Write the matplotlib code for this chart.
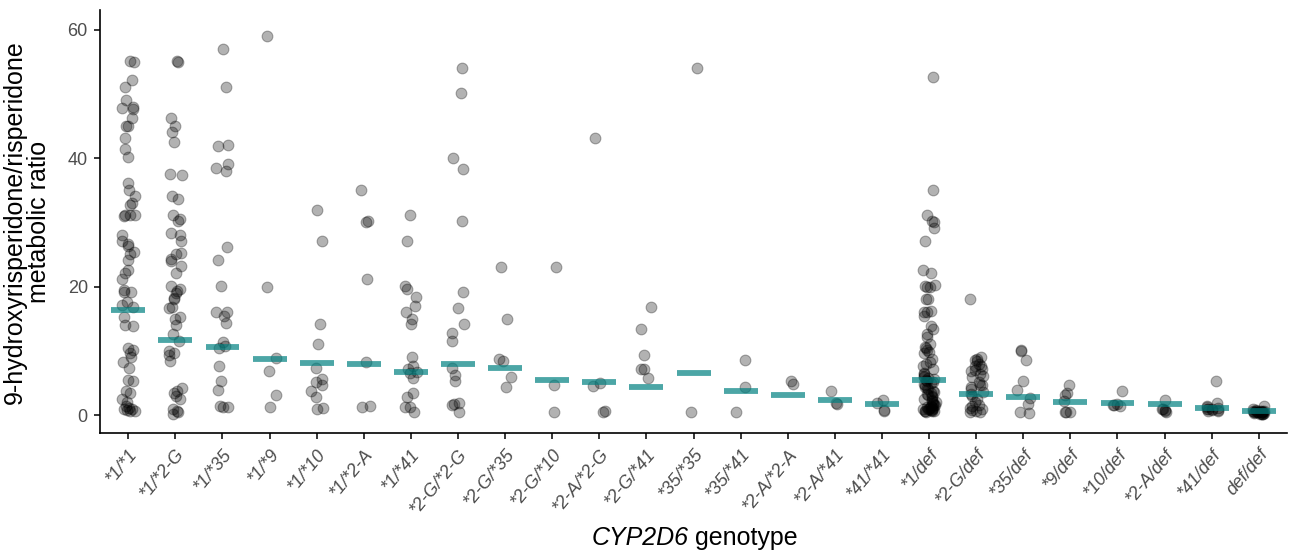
import numpy as np
import matplotlib.pyplot as plt

plt.rcParams['font.family'] = ['Liberation Sans', 'DejaVu Sans']

genotypes = ["*1/*1", "*1/*2-G", "*1/*35", "*1/*9", "*1/*10", "*1/*2-A", "*1/*41",
             "*2-G/*2-G", "*2-G/*35", "*2-G/*10", "*2-A/*2-G", "*2-G/*41", "*35/*35",
             "*35/*41", "*2-A/*2-A", "*2-A/*41", "*41/*41", "*1/def", "*2-G/def",
             "*35/def", "*9/def", "*10/def", "*2-A/def", "*41/def", "def/def"]

# metabolic ratio per patient
r_1_1 = [55.1, 55.0, 52.2, 51.1, 49.1, 48.0, 47.8, 47.6, 46.2, 45.1, 45.0, 43.1, 41.5, 40.2,
         36.2, 35.1, 34.1, 33.1, 32.7, 31.1, 31.1, 31.0, 31.2, 28.1, 27.1, 26.7, 26.3, 25.4,
         25.1, 24.1, 22.6, 22.2, 21.2, 19.4, 19.2, 19.1, 17.6, 17.1, 16.8, 15.2, 14.0, 13.8,
         10.5, 10.2, 9.7, 9.1, 8.2, 7.3, 5.4, 5.3, 3.8, 3.5, 2.5, 2.1, 1.4, 1.0, 0.9, 0.8,
         0.7, 1.1, 0.6]
r_1_2G = [55.1, 55.0, 46.2, 45.1, 44.1, 42.6, 37.6, 37.4, 34.1, 33.6, 31.1, 30.6, 30.2, 28.4,
          28.1, 27.1, 25.3, 25.1, 24.3, 24.0, 23.2, 22.2, 20.1, 19.6, 19.3, 19.0, 18.3, 18.0,
          16.9, 16.6, 15.2, 14.9, 14.0, 12.6, 11.6, 10.0, 9.6, 9.3, 8.4, 4.2, 3.8, 3.4, 3.0,
          2.5, 0.9, 0.7, 0.5, 0.2]
r_1_35 = [57.1, 51.1, 42.0, 41.9, 39.1, 38.5, 38.0, 26.1, 24.2, 20.1, 16.1, 16.0, 15.4, 14.4,
          11.3, 10.8, 10.4, 7.7, 5.3, 3.9, 1.4, 1.3, 1.2]
r_1_9 = [59.1, 19.9, 8.9, 6.9, 3.1, 1.2]
r_1_10 = [32.0, 27.1, 14.2, 11.0, 7.4, 5.6, 5.2, 4.7, 3.8, 2.8, 1.0, 1.1]
r_1_2A = [35.1, 30.2, 30.1, 21.2, 8.3, 1.35, 1.2]
r_1_41 = [31.1, 27.1, 20.1, 19.7, 18.4, 17.0, 16.1, 15.0, 14.2, 9.1, 7.7, 7.2, 6.7, 6.6,
          5.7, 3.5, 2.8, 1.2, 1.3, 0.5]
r_2G_2G = [54.1, 50.1, 40.1, 38.4, 30.2, 19.1, 16.7, 14.2, 12.7, 11.6, 7.4, 6.2, 5.3, 1.7,
           1.8, 1.6, 0.4]
r_2G_35 = [23.1, 15.0, 8.7, 8.4, 5.9, 4.3]
r_2G_10 = [23.1, 4.6, 0.4]
r_2A_2G = [43.1, 5.0, 4.5, 0.5, 0.6]
r_2G_41 = [16.9, 13.4, 9.3, 7.2, 7.1, 5.7]
r_35_35 = [54.1, 0.4]
r_35_41 = [8.6, 4.3, 0.4]
r_2A_2A = [5.3, 4.8]
r_2A_41 = [3.8, 1.9, 1.7]
r_41_41 = [2.4, 1.9, 0.8, 0.7]
r_1_def = [52.6, 35.1, 31.1, 30.2, 30.1, 29.1, 27.1, 22.6, 22.2, 20.1, 20.0, 20.2, 19.9, 18.1,
           18.0, 16.2, 16.1, 16.0, 15.4, 13.9, 13.4, 12.6, 12.1, 11.0, 10.6, 10.4, 10.1, 9.8,
           9.6, 8.7, 8.2, 7.9, 7.7, 7.2, 6.6, 6.4, 6.1, 5.9, 5.6, 5.5, 5.3, 5.1, 5.0, 4.6, 4.0,
           3.6, 3.3, 3.0, 2.5, 2.2, 1.9, 1.7, 1.4, 1.2, 1.0, 0.9, 0.8, 0.6, 0.5, 1.1, 1.3, 0.7,
           4.8, 4.4, 3.8, 3.4, 2.8, 2.0, 1.6, 1.5, 1.1, 0.9, 0.8, 0.7, 0.6, 1.0, 2.4, 3.1, 4.2,
           5.8]
r_2G_def = [18.1, 9.0, 8.8, 8.6, 8.4, 7.9, 7.7, 7.6, 7.2, 7.0, 6.9, 6.4, 6.1, 5.9, 5.1, 4.7,
            4.6, 4.3, 4.0, 3.6, 3.3, 3.0, 2.5, 2.0, 1.5, 1.4, 0.9, 0.8, 0.5, 0.4, 0.6, 1.1]
r_35_def = [10.2, 9.9, 8.5, 5.3, 3.9, 2.6, 1.7, 0.3, 0.4]
r_9_def = [4.6, 3.4, 3.1, 2.2, 0.4, 0.5, 0.4]
r_10_def = [3.8, 1.7, 1.5, 1.4, 1.6]
r_2A_def = [2.4, 0.9, 0.6, 0.4, 0.8, 1.0]
r_41_def = [5.3, 1.9, 1.4, 1.2, 1.0, 0.8, 0.7, 0.9, 1.1, 0.6, 1.0, 0.8]
r_def_def = [1.4, 0.9, 0.8, 0.7, 0.6, 0.5, 0.4, 0.3, 0.2, 0.1, 0.6, 0.5, 0.4, 0.3, 0.2, 0.7,
             0.5, 0.4, 0.3, 0.6, 0.2, 0.4]

medians = [16.3, 11.7, 10.6, 8.7, 8.1, 7.9, 6.7, 8.0, 7.3, 5.4, 5.2, 4.3, 6.5, 3.7, 3.1, 2.4,
           1.7, 5.5, 3.3, 2.8, 2.1, 1.8, 1.7, 1.1, 0.6]

groups = [r_1_1, r_1_2G, r_1_35, r_1_9, r_1_10, r_1_2A, r_1_41, r_2G_2G, r_2G_35, r_2G_10,
          r_2A_2G, r_2G_41, r_35_35, r_35_41, r_2A_2A, r_2A_41, r_41_41, r_1_def, r_2G_def,
          r_35_def, r_9_def, r_10_def, r_2A_def, r_41_def, r_def_def]

fig = plt.figure(figsize=(12.89, 5.53), dpi=100)
ax = fig.add_axes([0.0776, 0.2161, 0.9209, 0.7658])

# horizontal jitter only, like geom_jitter(width = 0.15, height = 0)
rng = np.random.default_rng(7)
for i, vals in enumerate(groups):
    xs = i + rng.uniform(-0.14, 0.14, len(vals))
    ax.scatter(xs, vals, s=60, c="black", edgecolors="black", linewidths=0.8,
               alpha=0.3, zorder=2)

ax.hlines(medians, np.arange(len(genotypes)) - 0.36, np.arange(len(genotypes)) + 0.36,
          colors="#008080", linewidth=4.2, alpha=0.7, zorder=3)

ax.set_xlim(-0.6, 24.6)
ax.set_ylim(-2.88, 63.1)
ax.set_yticks([0, 20, 40, 60])
ax.set_xticks(range(len(genotypes)))
ax.set_xticklabels(genotypes, rotation=50, ha="right", va="top", rotation_mode="anchor",
                   style="italic")

for s in ["top", "right"]:
    ax.spines[s].set_visible(False)
for s in ["left", "bottom"]:
    ax.spines[s].set_linewidth(1.2)
ax.tick_params(axis="both", length=4.3, width=1.1, labelsize=13, labelcolor="#4d4d4d",
               color="black", pad=4.5)

ax.set_ylabel("9-hydroxyrisperidone/risperidone\nmetabolic ratio", fontsize=18,
              linespacing=1.0)
ax.yaxis.set_label_coords(-0.0415, 0.5)

# x title: gene name in italics, the rest upright
fig.text(0.534, 0.015, "CYP2D6", fontsize=18, style="italic", ha="right", va="baseline")
fig.text(0.534, 0.015, " genotype", fontsize=18, ha="left", va="baseline")

plt.savefig("out.png", dpi=100)
plt.close()
